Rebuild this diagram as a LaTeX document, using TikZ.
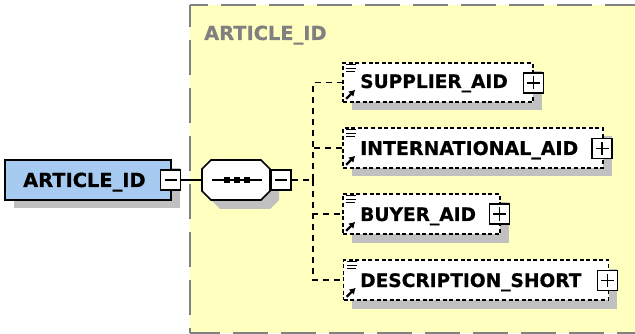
\documentclass[tikz,border=0pt]{standalone}
\usepackage{fontspec}
\setmainfont{DejaVu Sans}
\newfontfamily\heavyfont[FakeBold=0.6]{DejaVu Sans Bold}
\usetikzlibrary{shadows,arrows.meta}
\definecolor{frameY}{HTML}{FFFFC0}
\definecolor{frameG}{HTML}{808080}
\definecolor{shadeG}{HTML}{C0C0C0}
\definecolor{elemB}{HTML}{A6CAF0}
\tikzset{
  shade8/.style={drop shadow={shadow xshift=8.5pt,shadow yshift=-8.5pt,fill=shadeG,opacity=1}},
  rootbox/.style={draw=black,line width=1.6pt,fill=elemB,inner sep=0pt,shade8},
  elembox/.style={draw=black,line width=1.6pt,dash pattern=on 4pt off 2.6pt,fill=white,inner sep=0pt,
     drop shadow={shadow xshift=8.5pt,shadow yshift=-8.5pt,fill=shadeG,opacity=1,draw=none,solid}},
  seqanchor/.style={inner sep=0pt,minimum width=68pt,minimum height=40pt},
  seqface/.style={draw=black,line width=1.6pt,fill=white,line join=miter},
  seqshade/.style={fill=shadeG},
  togglebox/.style={draw=black,line width=1.6pt,fill=white,inner sep=0pt,minimum width=20pt,minimum height=20pt},
  lbl/.style={font=\heavyfont\fontsize{19.4}{20}\selectfont,inner sep=0pt,anchor=base west},
  ellbl/.style={font=\heavyfont\fontsize{18.6}{20}\selectfont,inner sep=0pt,anchor=base west},
  intlbl/.style={font=\heavyfont\fontsize{18.95}{20}\selectfont,inner sep=0pt,anchor=base west},
  conn/.style={black,line width=1.6pt},
  tree/.style={black,line width=1.6pt,dash pattern=on 6pt off 5pt},
  framedash/.style={frameG,line width=2pt,dash pattern=on 35pt off 13pt},
  iconline/.style={black,line width=1.1pt},
  iconarrow/.style={black,line width=2.2pt,-{Latex[length=6pt,width=7.5pt]}}
}
\newcommand{\minussign}[1]{\draw[conn,line width=1.3pt] ([xshift=-6pt]#1.center) -- ([xshift=6pt]#1.center);}
\newcommand{\plussign}[1]{\draw[conn,line width=1.3pt] ([xshift=-6.5pt]#1.center) -- ([xshift=6.5pt]#1.center);
  \draw[conn,line width=1.3pt] ([yshift=-6.5pt]#1.center) -- ([yshift=6.5pt]#1.center);}
\newcommand{\elemicons}[1]{%
  \draw[iconline] ([xshift=4pt,yshift=-2.5pt]#1.north west) -- +(10pt,0);
  \draw[iconline] ([xshift=4pt,yshift=-6pt]#1.north west) -- +(10pt,0);
  \draw[iconline] ([xshift=4pt,yshift=-9.5pt]#1.north west) -- +(9pt,0);
  \draw[iconarrow] ([xshift=4pt,yshift=4pt]#1.south west) -- +(9pt,9pt);}
\newcommand{\octagon}[1]{(202+#1,169+#1) -- (211+#1,160+#1) -- (261+#1,160+#1) -- (270+#1,169+#1) -- (270+#1,191+#1) -- (261+#1,200+#1) -- (211+#1,200+#1) -- (202+#1,191+#1) -- cycle}
\begin{document}
\begin{tikzpicture}[x=1pt,y=-1pt]
\useasboundingbox (0,0) rectangle (635,334);
% frame
\fill[frameY] (190,5) rectangle (635,333);
\draw[framedash,dash phase=17pt] (190,5) -- (635,5);
\draw[framedash,dash phase=13pt] (190,5) -- (190,333);
\draw[framedash,dash phase=5pt] (190,333) -- (635,333);
\node[lbl,text=frameG] (title) at (204,40) {ARTICLE\_ID};
% root
\node[rootbox,minimum width=166pt,minimum height=40pt] (root) at (88,180) {};
\node[lbl] (rootlbl) at (23,187) {ARTICLE\_ID};
\node[togglebox] (rootmin) at (170.5,180) {};
\minussign{rootmin}
% sequence
\fill[seqshade] \octagon{9};
\draw[seqface] \octagon{0};
\node[seqanchor] (seq) at (236,180) {};
\node[togglebox] (seqmin) at (281,180) {};
\minussign{seqmin}
\coordinate (dotL) at (212,180);
\coordinate (dotR) at (262,180);
\draw[conn] (dotL) -- (dotR);
\foreach \p in {227,237,247}{\fill[black] (\p-3,177) rectangle (\p+3,183);}
\draw[conn] (rootmin) -- (seq);
% elements
\coordinate (junction) at (313,180);
\node[elembox,minimum width=190pt,minimum height=39pt] (sup) at (438,82.5) {};
\node[elembox,minimum width=260pt,minimum height=40pt] (int) at (473,148) {};
\node[elembox,minimum width=157pt,minimum height=40pt] (buy) at (421.5,214) {};
\node[elembox,minimum width=265pt,minimum height=40pt] (des) at (476,280) {};
\draw[tree] (seqmin) -- (junction);
\draw[tree] (junction) |- (sup.west);
\draw[tree] (junction) |- (int.west);
\draw[tree] (junction) |- (buy.west);
\draw[tree] (junction) |- (des.west);
\node[ellbl] (suplbl) at (360,88) {SUPPLIER\_AID};
\node[intlbl] (intlabel) at (360,155) {INTERNATIONAL\_AID};
\node[ellbl] (buylbl) at (360,221) {BUYER\_AID};
\node[ellbl] (deslbl) at (360,287) {DESCRIPTION\_SHORT};
\elemicons{sup}\elemicons{int}\elemicons{buy}\elemicons{des}
\node[togglebox] (supp) at (533.5,83) {};
\node[togglebox] (intp) at (602,148.5) {};
\node[togglebox] (buyp) at (499.5,214) {};
\node[togglebox] (desp) at (607.5,280.5) {};
\plussign{supp}\plussign{intp}\plussign{buyp}\plussign{desp}
\end{tikzpicture}
\end{document}
